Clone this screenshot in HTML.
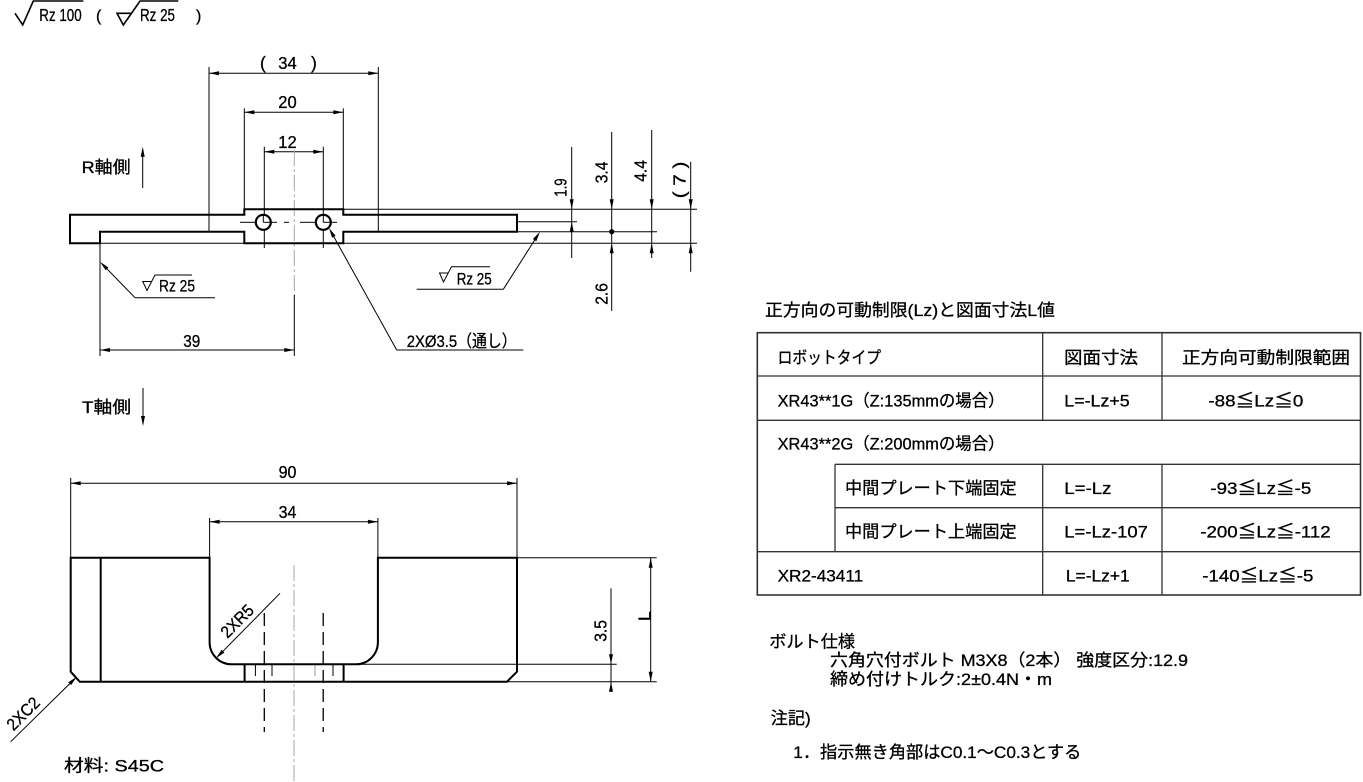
<!DOCTYPE html>
<html><head><meta charset="utf-8"><style>
html,body{margin:0;padding:0;background:#fff;}
svg{display:block;}
text{font-family:"Liberation Sans","Noto Sans CJK JP",sans-serif;fill:#000;stroke:#000;stroke-width:0.3;}
.k{stroke:#000;stroke-width:2;fill:none;stroke-linejoin:miter;}
.t{stroke:#000;stroke-width:1;fill:none;}
.c{stroke:#a8a8a8;stroke-width:1;fill:none;stroke-dasharray:16 3 3 3;}
.h{stroke:#000;stroke-width:1.3;fill:none;stroke-dasharray:13 6;}
.tb{stroke:#333;stroke-width:1.3;fill:none;}
.a{fill:#000;stroke:none;}
</style></head><body>
<svg width="1363" height="782" viewBox="0 0 1363 782" xmlns="http://www.w3.org/2000/svg">
<rect width="1363" height="782" fill="#fff"/>

<!-- top-left roughness -->
<polyline class="t" style="stroke-width:1.6" points="15,13.3 22.7,25 33.3,1 83.3,1"/>
<text x="39.3" y="21" font-size="17.5" textLength="42.4" lengthAdjust="spacingAndGlyphs">Rz 100</text>
<text x="96" y="21" font-size="16">(</text>
<polyline class="t" style="stroke-width:1.6" points="131.3,13.3 117,13.3 123.3,25 140,1 178.3,1"/>
<text x="140" y="21" font-size="17.5" textLength="35" lengthAdjust="spacingAndGlyphs">Rz 25</text>
<text x="196" y="21" font-size="16">)</text>

<!-- ===== TOP VIEW ===== -->
<line class="t" x1="209" y1="67" x2="209" y2="231.7"/>
<line class="t" x1="378.3" y1="67" x2="378.3" y2="231.7"/>
<line class="t" x1="209" y1="73.3" x2="378.3" y2="73.3"/>
<polygon class="a" points="209,73.3 219,71.3 219,75.3"/>
<polygon class="a" points="378.3,73.3 368.3,71.3 368.3,75.3"/>
<text x="260" y="69" font-size="17.5">(</text>
<text x="278.3" y="69" font-size="17.5" textLength="18.4" lengthAdjust="spacingAndGlyphs">34</text>
<text x="311" y="69" font-size="17.5">)</text>
<line class="t" x1="244.3" y1="108.3" x2="244.3" y2="209"/>
<line class="t" x1="343.3" y1="108.3" x2="343.3" y2="209"/>
<line class="t" x1="244.3" y1="112.3" x2="343.3" y2="112.3"/>
<polygon class="a" points="244.3,112.3 254.3,110.3 254.3,114.3"/>
<polygon class="a" points="343.3,112.3 333.3,110.3 333.3,114.3"/>
<text x="278.3" y="108" font-size="17.5" textLength="18.4" lengthAdjust="spacingAndGlyphs">20</text>
<line class="t" x1="264.3" y1="146.7" x2="264.3" y2="222.3"/>
<line class="t" x1="264.3" y1="229.8" x2="264.3" y2="248"/>
<line class="t" x1="323.3" y1="146.7" x2="323.3" y2="222.3"/>
<line class="t" x1="323.3" y1="229.8" x2="323.3" y2="248"/>
<line class="t" x1="264.3" y1="151.7" x2="323.3" y2="151.7"/>
<polygon class="a" points="264.3,151.7 274.3,149.7 274.3,153.7"/>
<polygon class="a" points="323.3,151.7 313.3,149.7 313.3,153.7"/>
<text x="278.3" y="148" font-size="17.5" textLength="18.4" lengthAdjust="spacingAndGlyphs">12</text>

<text x="81.7" y="173" font-size="17" textLength="49" lengthAdjust="spacingAndGlyphs">R軸側</text>
<line class="t" x1="142.7" y1="188" x2="142.7" y2="150"/>
<polygon class="a" points="142.7,146.7 140.7,156.7 144.7,156.7"/>

<line class="c" x1="294.3" y1="150" x2="294.3" y2="295"/>

<path class="k" d="M70,214.7 L244.3,214.7 L244.3,209.3 L343.3,209.3 L343.3,214.7 L517,214.7 L517,231.7 L343.3,231.7 L343.3,243.3 L244.3,243.3 L244.3,231.7 L100,231.7 L100,243.3 L70,243.3 Z"/>
<line class="t" x1="343.3" y1="209.3" x2="697" y2="209.3"/>
<line class="t" x1="100" y1="243.3" x2="244.3" y2="243.3"/>
<line class="t" x1="343.3" y1="243.3" x2="697" y2="243.3"/>
<line class="t" x1="517" y1="221.7" x2="577" y2="221.7"/>
<line class="t" x1="517" y1="231.7" x2="657" y2="231.7"/>
<circle cx="611.7" cy="231.7" r="2.6" fill="#000"/>

<circle cx="263.3" cy="222.3" r="7.5" fill="#fff" stroke="#000" stroke-width="2.2"/>
<circle cx="323.3" cy="222.3" r="7.5" fill="#fff" stroke="#000" stroke-width="2.2"/>
<line class="t" x1="263.3" y1="214.8" x2="263.3" y2="222.3"/>
<line class="t" x1="263.3" y1="222.3" x2="277" y2="222.3"/>
<line class="t" x1="240" y1="222.3" x2="255.8" y2="222.3"/>
<line class="t" x1="323.3" y1="214.8" x2="323.3" y2="222.3"/>
<line class="t" x1="323.3" y1="222.3" x2="337" y2="222.3"/>
<line class="t" x1="300" y1="222.3" x2="315.8" y2="222.3"/>
<line class="t" x1="284" y1="222.3" x2="289" y2="222.3"/>

<line class="t" x1="571.7" y1="147" x2="571.7" y2="258"/>
<polygon class="a" points="571.7,209.3 569.7,199.3 573.7,199.3"/>
<polygon class="a" points="571.7,221.7 569.7,231.7 573.7,231.7"/>
<line class="t" x1="611.7" y1="132" x2="611.7" y2="311"/>
<polygon class="a" points="611.7,209.3 609.7,199.3 613.7,199.3"/>
<polygon class="a" points="611.7,243.3 609.7,253.3 613.7,253.3"/>
<line class="t" x1="651.7" y1="130" x2="651.7" y2="258"/>
<polygon class="a" points="651.7,209.3 649.7,199.3 653.7,199.3"/>
<polygon class="a" points="651.7,243.3 649.7,253.3 653.7,253.3"/>
<line class="t" x1="690.7" y1="161.7" x2="690.7" y2="271.7"/>
<polygon class="a" points="690.7,209.3 688.7,199.3 692.7,199.3"/>
<polygon class="a" points="690.7,243.3 688.7,253.3 692.7,253.3"/>
<g font-size="17.5">
<text transform="translate(560,187.5) rotate(-90)" x="-9.2" y="6.3" textLength="18.3" lengthAdjust="spacingAndGlyphs">1.9</text>
<text transform="translate(601,172.5) rotate(-90)" x="-10.8" y="6.3" textLength="21.7" lengthAdjust="spacingAndGlyphs">3.4</text>
<text transform="translate(640,171) rotate(-90)" x="-10.8" y="6.3" textLength="21.7" lengthAdjust="spacingAndGlyphs">4.4</text>
<text transform="translate(679,180) rotate(-90)" x="-18.3" y="6.3" textLength="36.7" lengthAdjust="spacingAndGlyphs">(  7  )</text>
<text transform="translate(601,294) rotate(-90)" x="-10.8" y="6.3" textLength="21.7" lengthAdjust="spacingAndGlyphs">2.6</text>
</g>

<polyline class="t" points="135,297.7 215,297.7"/>
<line class="t" x1="135" y1="297.7" x2="104" y2="265.8"/>
<polygon class="a" points="100,261.7 108.4,267.5 105.6,270.3"/>
<polyline class="t" points="151.6,281.5 142.7,281.5 147,290.5 155,275 192,275"/>
<text x="159" y="291.5" font-size="17" textLength="36" lengthAdjust="spacingAndGlyphs">Rz 25</text>
<line class="t" x1="416.7" y1="289.3" x2="503.3" y2="289.3"/>
<line class="t" x1="503.3" y1="289.3" x2="537.5" y2="235.6"/>
<polygon class="a" points="540,231.7 536.3,241.2 532.9,239"/>
<polyline class="t" points="448,273 439.5,273 443.5,282 451.5,266.7 490,266.7"/>
<text x="456.7" y="284.3" font-size="17" textLength="35" lengthAdjust="spacingAndGlyphs">Rz 25</text>

<line class="t" x1="396.7" y1="350" x2="331" y2="231.6"/>
<polygon class="a" points="329,228 335.6,235.8 332.1,237.7"/>
<line class="t" x1="396.7" y1="350" x2="523.3" y2="350"/>
<text x="406.7" y="347" font-size="17" textLength="110" lengthAdjust="spacingAndGlyphs">2XØ3.5（通し）</text>

<line class="t" x1="100" y1="243.3" x2="100" y2="356"/>
<line class="t" x1="294.3" y1="295" x2="294.3" y2="356"/>
<line class="t" x1="100" y1="350" x2="294.3" y2="350"/>
<polygon class="a" points="100,350 110,348 110,352"/>
<polygon class="a" points="294.3,350 284.3,348 284.3,352"/>
<text x="183.3" y="347" font-size="17.5" textLength="17" lengthAdjust="spacingAndGlyphs">39</text>

<text x="82" y="413" font-size="17" textLength="49" lengthAdjust="spacingAndGlyphs">T軸側</text>
<line class="t" x1="143" y1="388" x2="143" y2="422"/>
<polygon class="a" points="143,426 141,416 145,416"/>

<!-- ===== BOTTOM VIEW ===== -->
<line class="t" x1="70.7" y1="478" x2="70.7" y2="557.7"/>
<line class="t" x1="517" y1="478" x2="517" y2="557.7"/>
<line class="t" x1="70.7" y1="483.3" x2="517" y2="483.3"/>
<polygon class="a" points="70.7,483.3 80.7,481.3 80.7,485.3"/>
<polygon class="a" points="517,483.3 507,481.3 507,485.3"/>
<text x="278.6" y="478" font-size="17.5" textLength="17.8" lengthAdjust="spacingAndGlyphs">90</text>
<line class="t" x1="209.6" y1="518" x2="209.6" y2="557.7"/>
<line class="t" x1="377.9" y1="518" x2="377.9" y2="557.7"/>
<line class="t" x1="209.6" y1="521.7" x2="377.9" y2="521.7"/>
<polygon class="a" points="209.6,521.7 219.6,519.7 219.6,523.7"/>
<polygon class="a" points="377.9,521.7 367.9,519.7 367.9,523.7"/>
<text x="278.6" y="518" font-size="17.5" textLength="17.8" lengthAdjust="spacingAndGlyphs">34</text>

<path class="k" d="M70.7,557.7 L209.6,557.7 L209.6,642.3 A22,22 0 0 0 231.6,664.3 L355.9,664.3 A22,22 0 0 0 377.9,642.3 L377.9,557.7 L517,557.7 L517,671.7 L507,681.7 L79.7,681.7 L70.7,671.7 Z"/>
<line class="k" x1="100.7" y1="557.7" x2="100.7" y2="681.7"/>
<line class="k" x1="244.6" y1="664.3" x2="244.6" y2="681.7"/>
<line class="k" x1="343.6" y1="664.3" x2="343.6" y2="681.7"/>
<line class="t" x1="255.4" y1="665" x2="255.4" y2="676"/>
<line class="t" x1="272" y1="665" x2="272" y2="676"/>
<line x1="315" y1="665" x2="315" y2="676" stroke="#999" stroke-width="1"/>
<line class="t" x1="333" y1="665" x2="333" y2="676"/>
<line class="h" x1="264.3" y1="613" x2="264.3" y2="732"/>
<line class="h" x1="323.2" y1="613" x2="323.2" y2="732"/>
<line class="c" x1="294" y1="565" x2="294" y2="782"/>

<line class="t" x1="517" y1="557.7" x2="656.7" y2="557.7"/>
<line class="t" x1="355.9" y1="664.3" x2="616.7" y2="664.3"/>
<line class="t" x1="507" y1="681.7" x2="656.7" y2="681.7"/>
<line class="t" x1="650.7" y1="557.7" x2="650.7" y2="681.7"/>
<polygon class="a" points="650.7,557.7 648.7,567.7 652.7,567.7"/>
<polygon class="a" points="650.7,681.7 648.7,671.7 652.7,671.7"/>
<text transform="translate(644,616) rotate(-90)" x="-5" y="6.3" font-size="17.5">L</text>
<line class="t" x1="611" y1="588.3" x2="611" y2="691.7"/>
<polygon class="a" points="611,664.3 609,654.3 613,654.3"/>
<polygon class="a" points="611,681.7 609,691.7 613,691.7"/>
<text transform="translate(600,631) rotate(-90)" x="-10.8" y="6.3" font-size="17.5" textLength="21.7" lengthAdjust="spacingAndGlyphs">3.5</text>

<line class="t" x1="280" y1="593.3" x2="219" y2="655.3"/>
<polygon class="a" points="216,658.3 224.4,652.6 221.6,649.8"/>
<text transform="translate(237,621) rotate(-45)" x="-19.5" y="6" font-size="17" textLength="39" lengthAdjust="spacingAndGlyphs">2XR5</text>
<line class="t" x1="10.7" y1="741.7" x2="73.5" y2="680"/>
<polygon class="a" points="76.8,676.7 71.1,685.1 68.3,682.3"/>
<text transform="translate(23,713.5) rotate(-45)" x="-19.5" y="6" font-size="17" textLength="39" lengthAdjust="spacingAndGlyphs">2XC2</text>

<text x="64" y="771.5" font-size="17" textLength="100" lengthAdjust="spacingAndGlyphs">材料:  S45C</text>

<!-- ===== TABLE ===== -->
<text x="765" y="316" font-size="17" textLength="290" lengthAdjust="spacingAndGlyphs">正方向の可動制限(Lz)と図面寸法L値</text>
<rect x="757.3" y="332.7" width="603.2" height="262.3" class="tb" style="stroke-width:1.6"/>
<line class="tb" x1="757.3" y1="376" x2="1360.5" y2="376"/>
<line class="tb" x1="757.3" y1="420.3" x2="1360.5" y2="420.3"/>
<line class="tb" x1="835" y1="464.3" x2="1360.5" y2="464.3"/>
<line class="tb" x1="835" y1="507.7" x2="1360.5" y2="507.7"/>
<line class="tb" x1="757.3" y1="551.7" x2="1360.5" y2="551.7"/>
<line class="tb" x1="835" y1="464.3" x2="835" y2="551.7"/>
<line class="tb" x1="1042.7" y1="332.7" x2="1042.7" y2="420.3"/>
<line class="tb" x1="1042.7" y1="464.3" x2="1042.7" y2="595"/>
<line class="tb" x1="1162" y1="332.7" x2="1162" y2="420.3"/>
<line class="tb" x1="1162" y1="464.3" x2="1162" y2="595"/>

<g font-size="17">
<text x="777.6" y="363.7" textLength="103.4" lengthAdjust="spacingAndGlyphs">ロボットタイプ</text>
<text x="1064" y="363.7" textLength="74" lengthAdjust="spacingAndGlyphs">図面寸法</text>
<text x="1182" y="363.7" textLength="168" lengthAdjust="spacingAndGlyphs">正方向可動制限範囲</text>

<text x="777.6" y="406.5" textLength="226.9" lengthAdjust="spacingAndGlyphs">XR43**1G（Z:135mmの場合）</text>
<text x="1064.3" y="406.5" textLength="65.4" lengthAdjust="spacingAndGlyphs">L=-Lz+5</text>
<text x="1208.4" y="406.5" textLength="94.9" lengthAdjust="spacingAndGlyphs">-88≦Lz≦0</text>

<text x="777.6" y="449.5" textLength="226.9" lengthAdjust="spacingAndGlyphs">XR43**2G（Z:200mmの場合）</text>

<text x="845" y="494" textLength="171.7" lengthAdjust="spacingAndGlyphs">中間プレート下端固定</text>
<text x="1064.3" y="494" textLength="47.2" lengthAdjust="spacingAndGlyphs">L=-Lz</text>
<text x="1210.4" y="494" textLength="100.9" lengthAdjust="spacingAndGlyphs">-93≦Lz≦-5</text>

<text x="845" y="537.3" textLength="171.7" lengthAdjust="spacingAndGlyphs">中間プレート上端固定</text>
<text x="1064.3" y="537.3" textLength="83.6" lengthAdjust="spacingAndGlyphs">L=-Lz-107</text>
<text x="1200.3" y="537.3" textLength="130.4" lengthAdjust="spacingAndGlyphs">-200≦Lz≦-112</text>

<text x="777.6" y="581.3" textLength="85.6" lengthAdjust="spacingAndGlyphs">XR2-43411</text>
<text x="1065.9" y="581.3" textLength="63.8" lengthAdjust="spacingAndGlyphs">L=-Lz+1</text>
<text x="1202.3" y="581.3" textLength="111.1" lengthAdjust="spacingAndGlyphs">-140≦Lz≦-5</text>
</g>

<!-- ===== NOTES ===== -->
<g font-size="17">
<text x="769.3" y="647.5" textLength="85.7" lengthAdjust="spacingAndGlyphs">ボルト仕様</text>
<text x="830" y="666" textLength="358" lengthAdjust="spacingAndGlyphs">六角穴付ボルト  M3X8（2本） 強度区分:12.9</text>
<text x="830" y="685" textLength="222" lengthAdjust="spacingAndGlyphs">締め付けトルク:2±0.4N・m</text>
<text x="770.7" y="724" textLength="40" lengthAdjust="spacingAndGlyphs">注記)</text>
<text x="793.3" y="758" textLength="288" lengthAdjust="spacingAndGlyphs">1．指示無き角部はC0.1～C0.3とする</text>
</g>
</svg>
</body></html>
